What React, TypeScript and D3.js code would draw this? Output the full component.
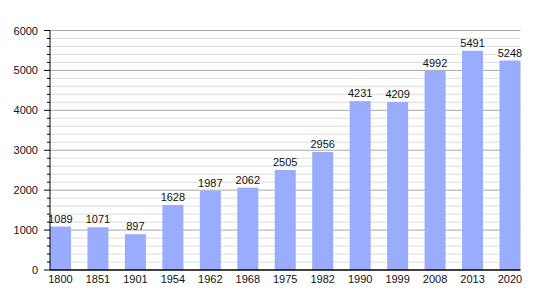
import React from "react";
import * as d3 from "d3";

const years = ["1800", "1851", "1901", "1954", "1962", "1968", "1975", "1982", "1990", "1999", "2008", "2013", "2020"];
const population = [1089, 1071, 897, 1628, 1987, 2062, 2505, 2956, 4231, 4209, 4992, 5491, 5248];
const yTicks = [0, 1000, 2000, 3000, 4000, 5000, 6000];
const minorTicks = d3.range(0, 6001, 200);

const W = 550, H = 300;
const left = 50, right = 520.5, top = 30.5, bottom = 270;
const barW = 21;

export default function App() {
  const y = d3.scaleLinear().domain([0, 6000]).range([bottom, top]);
  const step = (right - left - barW) / (years.length - 1);
  const x = (i: number) => left + i * step;
  const font = "'Liberation Sans', Arial, sans-serif";
  return (
    <svg width={W} height={H} style={{ position: "absolute", left: 0, top: 0 }} fontFamily={font}>
      <rect width={W} height={H} fill="#fff" />
      {minorTicks.filter(v => v % 1000 !== 0).map(v => (
        <line key={"m" + v} x1={left} x2={right} y1={y(v)} y2={y(v)} stroke="#dddddd" strokeWidth={1} />
      ))}
      {yTicks.filter(v => v !== 0).map(v => (
        <line key={"M" + v} x1={left} x2={right} y1={y(v)} y2={y(v)} stroke="#aaaaaa" strokeWidth={1} />
      ))}
      {population.map((v, i) => (
        <rect key={i} x={x(i)} y={y(v)} width={barW} height={bottom - y(v)} fill="#9aacfe" />
      ))}
      {population.map((v, i) => (
        <text key={"t" + i} x={x(i) + barW / 2} y={y(v) - 4} textAnchor="middle" fontSize={11} fill="#111">{v}</text>
      ))}
      {minorTicks.map(v => (
        <line key={"tk" + v} x1={v % 1000 === 0 ? left - 6 : left - 3} x2={left} y1={y(v)} y2={y(v)} stroke="#000" strokeWidth={1} />
      ))}
      <line x1={left} x2={left} y1={top} y2={bottom} stroke="#000" strokeWidth={1} />
      <line x1={left} x2={right} y1={bottom} y2={bottom} stroke="#000" strokeWidth={1.5} />
      {yTicks.map(v => (
        <text key={"yl" + v} x={left - 12} y={y(v) + 4} textAnchor="end" fontSize={11} fill="#111">{v}</text>
      ))}
      {years.map((c, i) => (
        <text key={"xl" + c} x={x(i) + barW / 2} y={bottom + 13} textAnchor="middle" fontSize={11} fill="#111">{c}</text>
      ))}
    </svg>
  );
}
